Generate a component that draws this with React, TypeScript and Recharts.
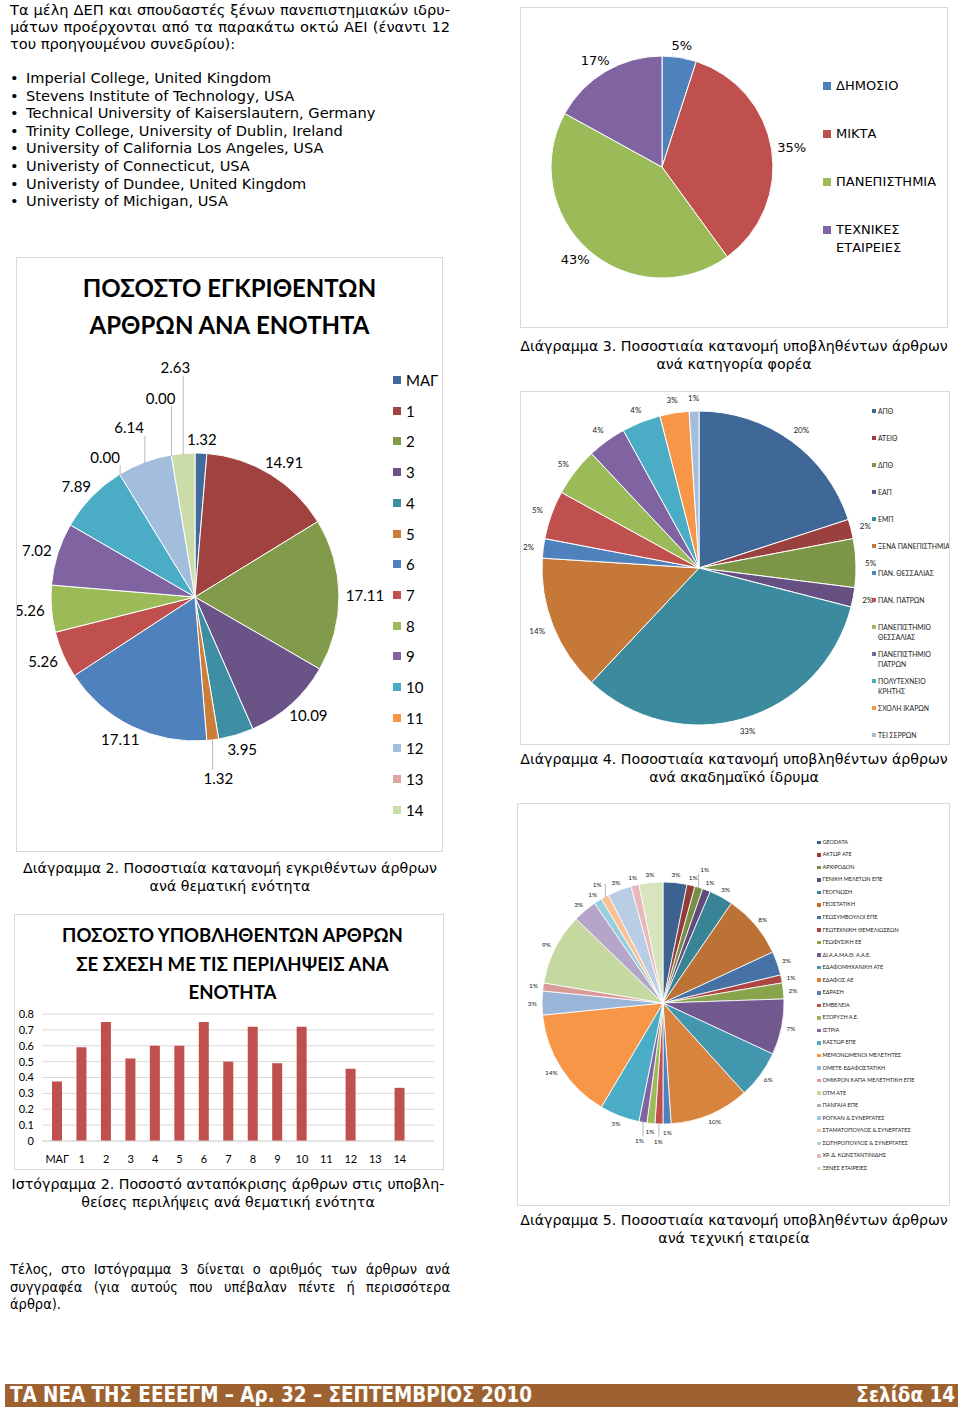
import React from 'react';
import { PieChart, Pie, Legend, BarChart, Bar, XAxis, YAxis, CartesianGrid } from 'recharts';

// ---------------- text content ----------------
const introLines = [
  'Τα μέλη ΔΕΠ και σπουδαστές ξένων πανεπιστημιακών ιδρυ-',
  'μάτων προέρχονται από τα παρακάτω οκτώ ΑΕΙ (έναντι 12',
  'του προηγουμένου συνεδρίου):',
];
const foreignInstitutions = [
  'Imperial College, United Kingdom',
  'Stevens Institute of Technology, USA',
  'Technical University of Kaiserslautern, Germany',
  'Trinity College, University of Dublin, Ireland',
  'University of California Los Angeles, USA',
  'Univeristy of Connecticut, USA',
  'Univeristy of Dundee, United Kingdom',
  'Univeristy of Michigan, USA',
];
const closingLines = [
  'Τέλος, στο Ιστόγραμμα 3 δίνεται ο αριθμός των άρθρων ανά',
  'συγγραφέα (για αυτούς που υπέβαλαν πέντε ή περισσότερα',
  'άρθρα).',
];

// ---------------- Diagram 2 + Histogram 2 ----------------
const sectionCategories = ['ΜΑΓ', '1', '2', '3', '4', '5', '6', '7', '8', '9', '10', '11', '12', '13', '14'];
const acceptedShares = [1.32, 14.91, 17.11, 10.09, 3.95, 1.32, 17.11, 5.26, 5.26, 7.02, 7.89, 0.0, 6.14, 0.0, 2.63];
const responseRates = [0.375, 0.59, 0.75, 0.52, 0.6, 0.6, 0.75, 0.5, 0.72, 0.49, 0.72, 0, 0.455, 0, 0.335];
const responseTicks = [0, 0.1, 0.2, 0.3, 0.4, 0.5, 0.6, 0.7, 0.8];

// ---------------- Diagram 3 ----------------
const bodyCategories = ['ΔΗΜΟΣΙΟ', 'ΜΙΚΤΑ', 'ΠΑΝΕΠΙΣΤΗΜΙΑ', 'ΤΕΧΝΙΚΕΣ ΕΤΑΙΡΕΙΕΣ'];
const bodyShares = [5, 35, 43, 17];

// ---------------- Diagram 4 ----------------
const institutionCategories = [
  'ΑΠΘ', 'ΑΤΕΙΘ', 'ΔΠΘ', 'ΕΑΠ', 'ΕΜΠ', 'ΞΕΝΑ ΠΑΝΕΠΙΣΤΗΜΙΑ', 'ΠΑΝ. ΘΕΣΣΑΛΙΑΣ', 'ΠΑΝ. ΠΑΤΡΩΝ',
  'ΠΑΝΕΠΙΣΤΗΜΙΟ ΘΕΣΣΑΛΙΑΣ', 'ΠΑΝΕΠΙΣΤΗΜΙΟ ΠΑΤΡΩΝ', 'ΠΟΛΥΤΕΧΝΕΙΟ ΚΡΗΤΗΣ', 'ΣΧΟΛΗ ΙΚΑΡΩΝ', 'ΤΕΙ ΣΕΡΡΩΝ',
];
const institutionShares = [20, 2, 5, 2, 33, 14, 2, 5, 5, 4, 4, 3, 1];

// ---------------- Diagram 5 ----------------
const companyCategories = [
  'GEODATA', 'ΑΚΤΩΡ ΑΤΕ', 'ΑΡΧΙΡΟΔΟΝ', 'ΓΕΝΙΚΗ ΜΕΛΕΤΩΝ ΕΠΕ', 'ΓΕΟΓΝΩΣΗ', 'ΓΕΟΣΤΑΤΙΚΗ',
  'ΓΕΩΣΥΜΒΟΥΛΟΙ ΕΠΕ', 'ΓΕΩΤΕΧΝΙΚΗ ΘΕΜΕΛΙΩΣΕΩΝ', 'ΓΕΩΦΥΣΙΚΗ ΕΕ', 'ΔΙ.Α.Α.ΜΑ.Θ. Α.Α.Ε.', 'ΕΔΑΦΟΜΗΧΑΝΙΚΗ ΑΤΕ',
  'ΕΔΑΦΟΣ ΑΕ', 'ΕΔΡΑΣΗ', 'ΕΜΒΕΛΕΙΑ', 'ΕΞΟΡΥΞΗ Α.Ε.', 'ΙΣΤΡΙΑ', 'ΚΑΣΤΩΡ ΕΠΕ', 'ΜΕΜΟΝΩΜΕΝΟΙ ΜΕΛΕΤΗΤΕΣ',
  'ΟΜΕΤΕ-ΕΔΑΦΟΣΤΑΤΙΚΗ', 'ΟΜΙΚΡΟΝ ΚΑΠΑ ΜΕΛΕΤΗΤΙΚΗ ΕΠΕ', 'ΟΤΜ ΑΤΕ', 'ΠΑΝΓΑΙΑ ΕΠΕ', 'ΡΟΓΚΑΝ & ΣΥΝΕΡΓΑΤΕΣ',
  'ΣΤΑΜΑΤΟΠΟΥΛΟΣ & ΣΥΝΕΡΓΑΤΕΣ', 'ΣΩΤΗΡΟΠΟΥΛΟΣ & ΣΥΝΕΡΓΑΤΕΣ', 'ΧΡ. Δ. ΚΩΝΣΤΑΝΤΙΝΙΔΗΣ', 'ΞΕΝΕΣ ΕΤΑΙΡΕΙΕΣ',
];
const companyShares = [3, 1, 1, 1, 3, 8, 3, 1, 2, 7, 6, 10, 1, 1, 1, 1, 5, 14, 3, 1, 9, 3, 1, 1, 3, 1, 3];

// ---------------- styling helpers ----------------
const OFFICE = ['#4F81BD', '#C0504D', '#9BBB59', '#8064A2', '#4BACC6', '#F79646'];
const RAD = Math.PI / 180;
const VERDANA = '"DejaVu Sans", Verdana, sans-serif';
const CALIBRI = 'Lato, "Open Sans", sans-serif';

function hexToRgb(h: string) {
  const n = parseInt(h.slice(1), 16);
  return [(n >> 16) & 255, (n >> 8) & 255, n & 255];
}
function rgbToHex(c: number[]) {
  return '#' + c.map((v) => Math.max(0, Math.min(255, Math.round(v))).toString(16).padStart(2, '0')).join('');
}
function shade(h: string, f: number) {
  return rgbToHex(hexToRgb(h).map((v) => v * f));
}
function tint(h: string, t: number) {
  return rgbToHex(hexToRgb(h).map((v) => v + (255 - v) * t));
}
type Step = ['shade' | 'tint', number];
function palette(n: number, steps: Step[]) {
  const out: string[] = [];
  for (let i = 0; i < n; i++) {
    const base = OFFICE[i % 6];
    const [kind, amt] = steps[Math.min(Math.floor(i / 6), steps.length - 1)];
    out.push(kind === 'shade' ? shade(base, amt) : tint(base, amt));
  }
  return out;
}

const bodyColors = palette(4, [['shade', 1]]);
const sectionColors = palette(15, [['shade', 0.83], ['shade', 1], ['tint', 0.48]]);
const institutionColors = palette(13, [['shade', 0.8], ['shade', 1], ['tint', 0.48]]);
const companyColors = palette(27, [['shade', 0.76], ['shade', 0.88], ['shade', 1], ['tint', 0.42], ['tint', 0.6]]);

function measure(text: string, fs: number, k: number) {
  let w = 0;
  for (const ch of text) w += ch === '.' ? 0.26 : ch === '%' ? 0.86 : 0.57;
  return w * fs * k;
}

type LabelCfg = {
  values: number[];
  texts: string[];
  r: number;
  gap: number;
  fs: number;
  k: number;
  padX: number;
  padY: number;
  font: string;
  color: string;
  lineColor: string;
};

// place labels outside the pie, pushing overlapping ones further out (like Excel best-fit)
function layoutLabels(cfg: LabelCfg) {
  const total = cfg.values.reduce((a, b) => a + b, 0);
  let cum = 0;
  const boxes: number[][] = [];
  return cfg.values.map((v, i) => {
    const ang = (90 - ((cum + v / 2) / total) * 360) * RAD;
    cum += v;
    const ux = Math.cos(ang);
    const uy = -Math.sin(ang);
    const w = measure(cfg.texts[i], cfg.fs, cfg.k);
    const h = cfg.fs;
    let d = cfg.r + cfg.gap;
    for (let s = 0; s < 300; s++) {
      const bx = ux * (d + w / 2);
      const by = uy * (d + h / 2);
      const box = [bx - w / 2 - cfg.padX, by - h / 2 - cfg.padY, bx + w / 2 + cfg.padX, by + h / 2 + cfg.padY];
      const hit = boxes.some((b) => box[0] < b[2] && box[2] > b[0] && box[1] < b[3] && box[3] > b[1]);
      if (!hit) {
        boxes.push(box);
        return d;
      }
      d += 1.5;
    }
    return d;
  });
}

function makeLabel(cfg: LabelCfg, names: string[]) {
  const dists = layoutLabels(cfg);
  return (props: any) => {
    const { cx, cy, midAngle, outerRadius } = props;
    let index = props.index;
    if (index === undefined || index === null) index = names.indexOf(props.name);
    const text = cfg.texts[index];
    const d = dists[index];
    const a = midAngle * RAD;
    const ux = Math.cos(a);
    const uy = -Math.sin(a);
    const w = measure(text, cfg.fs, cfg.k);
    const h = cfg.fs;
    const tx = cx + ux * (d + w / 2);
    const ty = cy + uy * (d + h / 2);
    const pushed = d > outerRadius + cfg.gap + 3;
    const ex = cx + ux * (outerRadius - 1);
    const ey = cy + uy * (outerRadius - 1);
    let points: string;
    if (Math.abs(ex - tx) < w / 2 + 2) {
      // label sits straight above/below the slice edge: stop at the label's near edge
      const yEnd = ty - Math.sign(uy || 1) * (h / 2 + 1);
      points = `${ex},${ey} ${ex},${yEnd}`;
    } else {
      // elbow leader: vertical from slice edge to label level, then horizontal to the label side
      const side = tx < ex ? 1 : -1;
      const lx = tx + side * (w / 2 + 2);
      points = `${ex},${ey} ${ex},${ty} ${lx},${ty}`;
    }
    return (
      <g key={`lab-${index}`}>
        {pushed && <polyline points={points} fill="none" stroke={cfg.lineColor} strokeWidth={0.8} />}
        <text x={tx} y={ty} textAnchor="middle" dominantBaseline="central" fontSize={cfg.fs} fontFamily={cfg.font} fill={cfg.color}>
          {text}
        </text>
      </g>
    );
  };
}

function wrapWords(s: string, maxChars: number) {
  const words = s.split(' ');
  const lines: string[] = [];
  let cur = '';
  for (const w of words) {
    const next = cur ? cur + ' ' + w : w;
    if (next.length > maxChars && cur) {
      lines.push(cur);
      cur = w;
    } else cur = next;
  }
  if (cur) lines.push(cur);
  return lines.join('\n');
}

function makeLegend(opts: {
  names: string[];
  colors: string[];
  spacing: number;
  fs: number;
  lineH: number;
  sq: number;
  gapPx: number;
  font: string;
  maxChars: number;
  color: string;
}) {
  return () => (
    <div style={{ position: 'relative', width: '100%', height: '100%' }}>
      {opts.names.map((n, i) => (
        <div
          key={n + i}
          style={{ position: 'absolute', left: 0, top: i * opts.spacing, display: 'flex', alignItems: 'flex-start' }}
        >
          <span
            style={{
              display: 'block',
              width: opts.sq,
              height: opts.sq,
              background: opts.colors[i],
              marginTop: (opts.lineH - opts.sq) / 2,
              marginRight: opts.gapPx,
              flex: 'none',
            }}
          />
          <span
            style={{
              whiteSpace: 'pre',
              fontSize: opts.fs,
              lineHeight: opts.lineH + 'px',
              fontFamily: opts.font,
              color: opts.color,
            }}
          >
            {wrapWords(n, opts.maxChars)}
          </span>
        </div>
      ))}
    </div>
  );
}

function Panel(props: { left: number; top: number; width: number; height: number; children?: React.ReactNode }) {
  const { left, top, width, height } = props;
  return (
    <div style={{ position: 'absolute', left, top, width, height }}>
      {props.children}
      <div
        style={{
          position: 'absolute',
          left: 0,
          top: 0,
          width,
          height,
          boxSizing: 'border-box',
          border: '1px solid #D9D9D9',
          pointerEvents: 'none',
        }}
      />
    </div>
  );
}

function Caption(props: { left: number; top: number; width: number; lines: string[] }) {
  return (
    <div
      style={{
        position: 'absolute',
        left: props.left,
        top: props.top,
        width: props.width,
        textAlign: 'center',
        fontSize: 14.2,
        lineHeight: '18px',
        fontFamily: VERDANA,
      }}
    >
      {props.lines.map((l) => (
        <div key={l}>{l}</div>
      ))}
    </div>
  );
}

// ---------------- data tables ----------------
const sectionRows = sectionCategories.map((name, i) => ({ name, value: acceptedShares[i], fill: sectionColors[i] }));
const responseRows = sectionCategories.map((name, i) => ({ name, rate: responseRates[i] }));
const bodyRows = bodyCategories.map((name, i) => ({ name, value: bodyShares[i], fill: bodyColors[i] }));
const institutionRows = institutionCategories.map((name, i) => ({ name, value: institutionShares[i], fill: institutionColors[i] }));
const companyRows = companyCategories.map((name, i) => ({ name, value: companyShares[i], fill: companyColors[i] }));

const sectionLabel = makeLabel(
  { values: acceptedShares, texts: acceptedShares.map((v) => v.toFixed(2)), r: 144, gap: 7, fs: 15, k: 1, padX: 4, padY: 7, font: CALIBRI, color: '#000', lineColor: '#A6A6A6' },
  sectionCategories
);
const bodyLabel = makeLabel(
  { values: bodyShares, texts: bodyShares.map((v) => v + '%'), r: 111, gap: 6, fs: 13, k: 1.1, padX: 1, padY: 0, font: VERDANA, color: '#000', lineColor: '#A6A6A6' },
  bodyCategories
);
const institutionLabel = makeLabel(
  { values: institutionShares, texts: institutionShares.map((v) => v + '%'), r: 157, gap: 9, fs: 8, k: 1, padX: 1, padY: 0, font: CALIBRI, color: '#222', lineColor: '#A6A6A6' },
  institutionCategories
);
const companyLabel = makeLabel(
  { values: companyShares, texts: companyShares.map((v) => v + '%'), r: 121, gap: 5, fs: 6.5, k: 1, padX: 1, padY: 1, font: CALIBRI, color: '#222', lineColor: '#A6A6A6' },
  companyCategories
);

const sectionLegend = makeLegend({ names: sectionCategories, colors: sectionColors, spacing: 30.7, fs: 15, lineH: 18, sq: 8, gapPx: 5, font: CALIBRI, maxChars: 99, color: '#000' });
const bodyLegend = makeLegend({ names: bodyCategories, colors: bodyColors, spacing: 48, fs: 13, lineH: 18, sq: 8, gapPx: 5, font: VERDANA, maxChars: 12, color: '#000' });
const institutionLegend = makeLegend({ names: institutionCategories, colors: institutionColors, spacing: 27, fs: 6.8, lineH: 10, sq: 4, gapPx: 2, font: CALIBRI, maxChars: 17, color: '#222' });
const companyLegend = makeLegend({ names: companyCategories, colors: companyColors, spacing: 12.54, fs: 5.5, lineH: 7, sq: 3.5, gapPx: 2, font: CALIBRI, maxChars: 99, color: '#222' });

export default function App() {
  return (
    <div
      style={{
        position: 'absolute',
        left: 0,
        top: 0,
        width: 960,
        height: 1411,
        background: '#fff',
        overflow: 'hidden',
        fontFamily: VERDANA,
        color: '#000',
      }}
    >
      {/* intro paragraph */}
      <div style={{ position: 'absolute', left: 10, top: 1, width: 440, fontSize: 14.6, lineHeight: '17px' }}>
        {introLines.map((l, i) => (
          <div key={l} style={{ textAlign: 'justify', textAlignLast: i < introLines.length - 1 ? 'justify' : 'left', whiteSpace: 'nowrap' }}>
            {l}
          </div>
        ))}
      </div>
      <div style={{ position: 'absolute', left: 10, top: 69, width: 440, fontSize: 14.6, lineHeight: '17.6px' }}>
        {foreignInstitutions.map((l) => (
          <div key={l} style={{ position: 'relative', paddingLeft: 16 }}>
            <span style={{ position: 'absolute', left: 0, top: 0 }}>•</span>
            {l}
          </div>
        ))}
      </div>

      {/* Diagram 2 */}
      <Panel left={16} top={257} width={427} height={595}>
        <div
          style={{
            position: 'absolute',
            left: 0,
            top: 12,
            width: 427,
            textAlign: 'center',
            fontFamily: CALIBRI,
            fontWeight: 700,
            fontSize: 24,
            lineHeight: '37px',
          }}
        >
          <div>ΠΟΣΟΣΤΟ ΕΓΚΡΙΘΕΝΤΩΝ</div>
          <div>ΑΡΘΡΩΝ ΑΝΑ ΕΝΟΤΗΤΑ</div>
        </div>
        <div style={{ position: 'absolute', left: 0, top: 0 }}>
          <PieChart width={427} height={595} margin={{ top: 0, right: 0, bottom: 0, left: 0 }}>
            <Pie
              data={sectionRows}
              dataKey="value"
              nameKey="name"
              cx={179}
              cy={340}
              outerRadius={144}
              startAngle={90}
              endAngle={-270}
              stroke="#fff"
              strokeWidth={1}
              label={sectionLabel}
              labelLine={false}
              isAnimationActive={false}
            />
            <Legend
              layout="vertical"
              align="right"
              verticalAlign="top"
              content={sectionLegend}
              wrapperStyle={{ left: 377, top: 114, width: 50, height: 460 }}
            />
          </PieChart>
        </div>
      </Panel>
      <Caption left={10} top={859} width={440} lines={['Διάγραμμα 2. Ποσοστιαία κατανομή εγκριθέντων άρθρων', 'ανά θεματική ενότητα']} />

      {/* Histogram 2 */}
      <Panel left={14} top={914} width={430} height={256}>
        <div
          style={{
            position: 'absolute',
            left: 7,
            top: 7,
            width: 423,
            textAlign: 'center',
            fontFamily: CALIBRI,
            fontWeight: 700,
            fontSize: 18.6,
            lineHeight: '28.5px',
          }}
        >
          <div>ΠΟΣΟΣΤΟ ΥΠΟΒΛΗΘΕΝΤΩΝ ΑΡΘΡΩΝ</div>
          <div>ΣΕ ΣΧΕΣΗ ΜΕ ΤΙΣ ΠΕΡΙΛΗΨΕΙΣ ΑΝΑ</div>
          <div>ΕΝΟΤΗΤΑ</div>
        </div>
        <div style={{ position: 'absolute', left: 0, top: 0 }}>
          <BarChart width={430} height={256} data={responseRows} margin={{ top: 100, right: 10, bottom: 4, left: 0 }}>
            <CartesianGrid vertical={false} stroke="#D9D9D9" />
            <XAxis
              dataKey="name"
              interval={0}
              height={25}
              padding={{ left: 3, right: 22 }}
              axisLine={{ stroke: '#D9D9D9' }}
              tickLine={false}
              tickMargin={8}
              tick={{ fontSize: 11, fill: '#000', fontFamily: CALIBRI }}
            />
            <YAxis
              width={28}
              domain={[0, 0.8]}
              ticks={responseTicks}
              interval={0}
              tickFormatter={(v: number) => String(v)}
              axisLine={false}
              tickLine={false}
              tick={{ fontSize: 11, fill: '#000', fontFamily: CALIBRI }}
            />
            <Bar dataKey="rate" fill="#C0504D" barSize={10} isAnimationActive={false} />
          </BarChart>
        </div>
      </Panel>
      <Caption
        left={8}
        top={1175}
        width={440}
        lines={['Ιστόγραμμα 2. Ποσοστό ανταπόκρισης άρθρων στις υποβλη-', 'θείσες περιλήψεις ανά θεματική ενότητα']}
      />

      {/* closing paragraph */}
      <div
        style={{
          position: 'absolute',
          left: 10,
          top: 1261,
          width: 440,
          fontSize: 14.5,
          lineHeight: '17.5px',
          fontFamily: '"DejaVu Sans Condensed", "DejaVu Sans", sans-serif',
        }}
      >
        {closingLines.map((l, i) => (
          <div key={l} style={{ textAlign: 'justify', textAlignLast: i < closingLines.length - 1 ? 'justify' : 'left', whiteSpace: 'nowrap' }}>
            {l}
          </div>
        ))}
      </div>

      {/* Diagram 3 */}
      <Panel left={520} top={7} width={428} height={321}>
        <div style={{ position: 'absolute', left: 0, top: 0 }}>
          <PieChart width={428} height={321} margin={{ top: 0, right: 0, bottom: 0, left: 0 }}>
            <Pie
              data={bodyRows}
              dataKey="value"
              nameKey="name"
              cx={142}
              cy={160}
              outerRadius={111}
              startAngle={90}
              endAngle={-270}
              stroke="#fff"
              strokeWidth={1}
              label={bodyLabel}
              labelLine={false}
              isAnimationActive={false}
            />
            <Legend
              layout="vertical"
              align="right"
              verticalAlign="top"
              content={bodyLegend}
              wrapperStyle={{ left: 303, top: 70, width: 120, height: 200 }}
            />
          </PieChart>
        </div>
      </Panel>
      <Caption left={514} top={337} width={440} lines={['Διάγραμμα 3. Ποσοστιαία κατανομή υποβληθέντων άρθρων', 'ανά κατηγορία φορέα']} />

      {/* Diagram 4 */}
      <Panel left={520} top={391} width={430} height={354}>
        <div style={{ position: 'absolute', left: 0, top: 0 }}>
          <PieChart width={430} height={354} margin={{ top: 0, right: 0, bottom: 0, left: 0 }}>
            <Pie
              data={institutionRows}
              dataKey="value"
              nameKey="name"
              cx={179}
              cy={177}
              outerRadius={157}
              startAngle={90}
              endAngle={-270}
              stroke="#fff"
              strokeWidth={1}
              label={institutionLabel}
              labelLine={false}
              isAnimationActive={false}
            />
            <Legend
              layout="vertical"
              align="right"
              verticalAlign="top"
              content={institutionLegend}
              wrapperStyle={{ left: 352, top: 15, width: 78, height: 336 }}
            />
          </PieChart>
        </div>
      </Panel>
      <Caption left={514} top={750} width={440} lines={['Διάγραμμα 4. Ποσοστιαία κατανομή υποβληθέντων άρθρων', 'ανά ακαδημαϊκό ίδρυμα']} />

      {/* Diagram 5 */}
      <Panel left={517} top={803} width={433} height={403}>
        <div style={{ position: 'absolute', left: 0, top: 0 }}>
          <PieChart width={433} height={403} margin={{ top: 0, right: 0, bottom: 0, left: 0 }}>
            <Pie
              data={companyRows}
              dataKey="value"
              nameKey="name"
              cx={146}
              cy={200}
              outerRadius={121}
              startAngle={90}
              endAngle={-270}
              stroke="#fff"
              strokeWidth={0.8}
              label={companyLabel}
              labelLine={false}
              isAnimationActive={false}
            />
            <Legend
              layout="vertical"
              align="right"
              verticalAlign="top"
              content={companyLegend}
              wrapperStyle={{ left: 300, top: 35.8, width: 130, height: 340 }}
            />
          </PieChart>
        </div>
      </Panel>
      <Caption left={514} top={1211} width={440} lines={['Διάγραμμα 5. Ποσοστιαία κατανομή υποβληθέντων άρθρων', 'ανά τεχνική εταιρεία']} />

      {/* footer */}
      <div
        style={{
          position: 'absolute',
          left: 5,
          top: 1384,
          width: 953,
          height: 23,
          background: '#9E6230',
          color: '#fff',
          fontFamily: '"DejaVu Sans Condensed", "DejaVu Sans", sans-serif',
          fontWeight: 700,
          fontSize: 20.4,
          lineHeight: '23px',
        }}
      >
        <span style={{ position: 'absolute', left: 5, top: 0 }}>ΤΑ ΝΕΑ ΤΗΣ ΕΕΕΕΓΜ – Αρ. 32 – ΣΕΠΤΕΜΒΡΙΟΣ 2010</span>
        <span style={{ position: 'absolute', right: 3, top: 0 }}>Σελίδα 14</span>
      </div>
    </div>
  );
}
